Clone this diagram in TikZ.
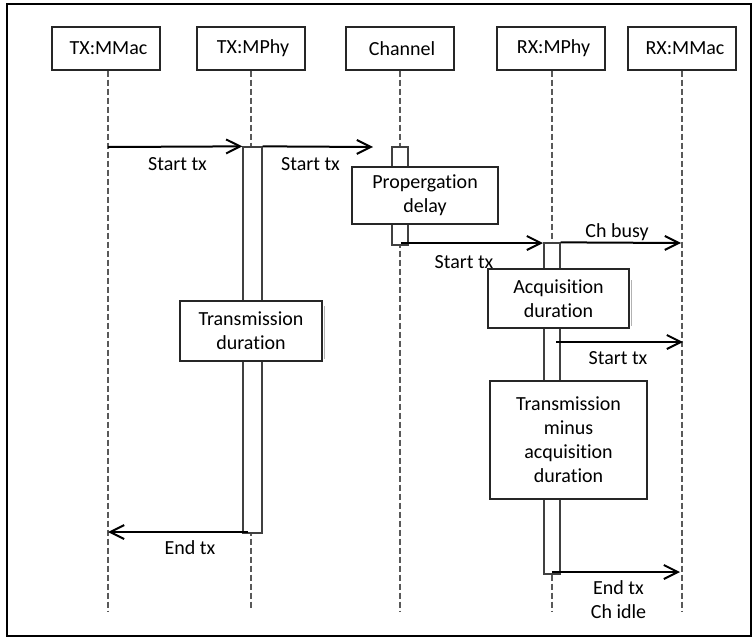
\documentclass[tikz,border=0pt]{standalone}
\usepackage{fontspec}
\setmainfont{Carlito}[Ligatures=NoCommon]
\usetikzlibrary{arrows.meta}
\begin{document}
\begin{tikzpicture}[x=1pt,y=-1pt,
  every node/.style={font=\fontsize{20}{24}\selectfont},
  hdr/.style={draw=black!85, line width=1.2pt, fill=white, minimum width=108pt, minimum height=43pt, inner sep=0pt},
  lifeline/.style={draw=black!65, line width=1.3pt, dash pattern=on 6pt off 3pt},
  actbar/.style={draw=black!75, line width=1.3pt, fill=white, inner sep=0pt},
  textbox/.style={draw=black!85, line width=1.2pt, fill=white, align=center, inner sep=0pt},
  boxshadow/.style={draw=black!30, line width=1pt},
  msg/.style={draw=black, line width=2pt, -{Straight Barb[length=14pt,width=14pt]}},
  lbl/.style={inner sep=0pt, align=center}]
\useasboundingbox (0,0) rectangle (754,638);
\draw[line width=2pt] (7,4) rectangle (751,636);

% headers
\node[hdr] (h1) at (106,48.5) {\hspace*{5pt}TX:MMac};
\node[hdr] (h2) at (251,48.5) {\hspace*{4pt}TX:MPhy};
\node[hdr] (h3) at (400,48.5) {\hspace*{4pt}Channel};
\node[hdr] (h4) at (551,48.5) {\hspace*{5pt}RX:MPhy};
\node[hdr] (h5) at (682,48.5) {\hspace*{6pt}RX:MMac};

% lifelines
\coordinate (e1) at (108,612);
\coordinate (e2) at (251,608);
\coordinate (e3) at (400,612);
\coordinate (e4) at (552,611);
\coordinate (e5) at (682,612);
\draw[lifeline] (h1.south -| e1) -- (e1);
\draw[lifeline] (h2.south -| e2) -- (e2);
\draw[lifeline] (h3.south -| e3) -- (e3);
\draw[lifeline] (h4.south -| e4) -- (e4);
\draw[lifeline] (h5.south -| e5) -- (e5);

% activation bars
\node[actbar, minimum width=19pt, minimum height=386pt] (b1) at (252.5,340) {};
\node[actbar, minimum width=16pt, minimum height=98pt] (b2) at (400,196) {};
\node[actbar, minimum width=16pt, minimum height=331pt] (b3) at (552,408.5) {};

% boxes
\node[textbox, minimum width=142pt, minimum height=60pt] (tdur) at (251,331) {Transmission\\duration};
\node[textbox, minimum width=146pt, minimum height=57pt] (prop) at (425,195.5) {Propergation\\delay};
\node[textbox, minimum width=141pt, minimum height=59pt] (acq) at (558.5,298.5) {Acquisition\\duration};
\node[textbox, minimum width=157pt, minimum height=118pt] (tmin) at (568.5,440) {Transmission\\minus\\acquisition\\duration};
\draw[boxshadow] ([xshift=2pt,yshift=-6pt]tdur.north east) -- ([xshift=2pt,yshift=3pt]tdur.south east);
\draw[boxshadow] ([xshift=2pt,yshift=-12pt]acq.north east) -- ([xshift=2pt,yshift=3pt]acq.south east);

% message endpoints
\coordinate (s1) at (108,147);
\coordinate (t2) at (373,147);
\coordinate (s3) at (401,243);
\coordinate (t3) at (543,243);
\coordinate (t4) at (681,243);
\coordinate (s5) at (556,342);
\coordinate (t5) at (683,342);
\coordinate (s6) at (552,572);
\coordinate (t6) at (680,572);
\coordinate (s7) at (248,532);
\coordinate (t7) at (108,532);

% messages
\draw[msg] (s1) -- (b1.north west);
\draw[msg] (b1.north east) -- (t2);
\draw[msg] (s3) -- (t3);
\draw[msg] (b3.north east) -- (t4);
\draw[msg] (s5) -- (t5);
\draw[msg] (s6) -- (t6);
\draw[msg] (s7) -- (t7);

% labels
\node[lbl] (l1) at (177.5,164) {Start tx};
\node[lbl] (l2) at (310.5,164) {Start tx};
\node[lbl] (l3) at (464,262) {Start tx};
\node[lbl] (l4) at (617,232) {Ch busy};
\node[lbl] (l5) at (618,358) {Start tx};
\node[lbl] (l6) at (190,548) {End tx};
\node[lbl] (l7) at (618.5,600) {End tx\\Ch idle};
\end{tikzpicture}
\end{document}
